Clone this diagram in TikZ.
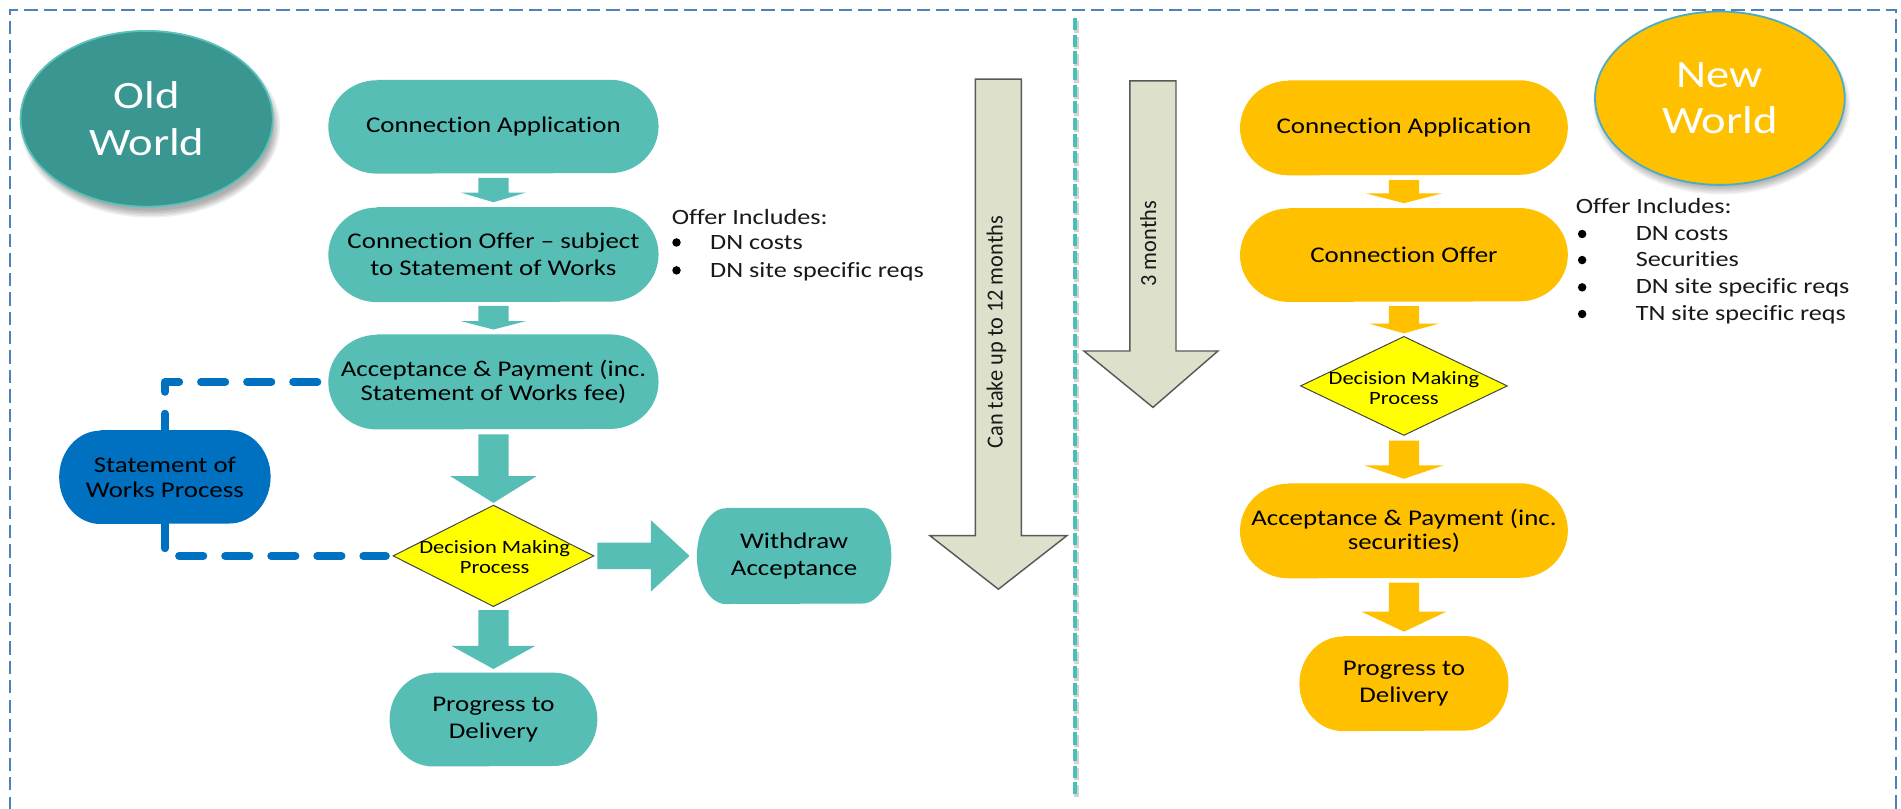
\documentclass[tikz,border=0pt]{standalone}
\usepackage{fontspec}
\setmainfont{Carlito}[FakeStretch=1.2,Ligatures=NoCommon]
\newfontfamily\rotfont{Carlito}[FakeStretch=0.97,Ligatures=NoCommon]
\usetikzlibrary{calc,shapes.geometric}
\definecolor{tealbox}{RGB}{87,190,182}
\definecolor{tealdark}{RGB}{58,150,145}
\definecolor{tealedge}{RGB}{92,192,186}
\definecolor{orangebox}{RGB}{255,192,0}
\definecolor{sowblue}{RGB}{0,112,192}
\definecolor{dmyellow}{RGB}{255,255,0}
\definecolor{grayfill}{RGB}{221,224,203}
\definecolor{grayline}{RGB}{89,89,89}
\definecolor{divteal}{RGB}{75,190,184}
\definecolor{borderblue}{RGB}{79,129,189}
\definecolor{nwedge}{RGB}{75,172,198}
\pgfdeclarelayer{back}
\pgfdeclarelayer{bg}
\pgfsetlayers{back,bg,main}
\tikzset{
  boxtext/.style={inner sep=0pt, align=center, text=black, font=\fontsize{18.5}{22}\selectfont},
  tightlines/.style={font=\fontsize{18.5}{20.5}\selectfont},
  dmshape/.style={fill=dmyellow, draw=black!75, line width=0.8pt, line join=miter},
  dmtext/.style={inner sep=0pt, align=center, text=black, font=\fontsize{15.5}{17}\selectfont},
  listtext/.style={inner sep=0pt, anchor=base west, text=black!90, font=\fontsize{18}{22}\selectfont},
  bulletdot/.style={circle, fill=black, inner sep=0pt, minimum size=7pt},
  grayarrow/.style={fill=grayfill, draw=grayline, line width=1.2pt, line join=miter},
  rottext/.style={rotate=90, inner sep=0pt, text=black!90, font=\rotfont\fontsize{19}{22}\selectfont},
  sowlink/.style={draw=sowblue, line width=6.5pt, line cap=round, line join=round, dash pattern=on 20pt off 18pt},
  world/.style={ellipse, inner sep=0pt, align=center, text=white, line width=1.5pt, font=\fontsize{32}{38.5}\selectfont},
}
% terminator box: name, x, y, w, h, rx, colour, text, extra options
\newcommand\termbox[9]{%
  \node[boxtext, minimum width=#4pt, minimum height=#5pt, #9] (#1) at (#2,#3) {#8};
  \begin{pgfonlayer}{bg}
  \fill[#7] ([xshift=#6pt]#1.north west) -- ([xshift=-#6pt]#1.north east)
     arc[start angle=90, end angle=-90, x radius=#6pt, y radius=#5pt/2]
     -- ([xshift=#6pt]#1.south west)
     arc[start angle=270, end angle=90, x radius=#6pt, y radius=#5pt/2] -- cycle;
  \end{pgfonlayer}
}
% vertical block arrow: from, to, shaft hw, head hw, head length, gap start, gap end, colour
\newcommand\vblk[8]{%
  \fill[#8] let \p1=(#1.south), \p2=(#2.north) in
   (\x1-#3,\y1-#6) -- (\x1+#3,\y1-#6) -- (\x1+#3,\y2+#7+#5) -- (\x1+#4,\y2+#7+#5)
   -- (\x1,\y2+#7) -- (\x1-#4,\y2+#7+#5) -- (\x1-#3,\y2+#7+#5) -- cycle;
}
% horizontal block arrow
\newcommand\hblk[8]{%
  \fill[#8] let \p1=(#1.east), \p2=(#2.west) in
   (\x1+#6,\y1+#3) -- (\x2-#7-#5,\y1+#3) -- (\x2-#7-#5,\y1+#4) -- (\x2-#7,\y1)
   -- (\x2-#7-#5,\y1-#4) -- (\x2-#7-#5,\y1-#3) -- (\x1+#6,\y1-#3) -- cycle;
}
\begin{document}
\begin{tikzpicture}[x=1pt,y=-1pt]
\useasboundingbox (0,0) rectangle (1568,667);
\begin{pgfonlayer}{back}
\fill[white] (0,0) rectangle (1568,667);
\end{pgfonlayer}
% outer border
\draw[borderblue, line width=1.6pt, dash pattern=on 11pt off 5pt] (8,700) -- (8,8) -- (1564,8) -- (1564,700);
% divider
\draw[black!35, opacity=0.5, line width=3.5pt, dash pattern=on 10pt off 3.7pt] (888,17) -- (888,660);
\draw[divteal, line width=3.5pt, dash pattern=on 10pt off 3.7pt] (886.4,15) -- (886.4,658);

% world circles with soft shadows
\foreach \k in {0,...,5}{
  \fill[black, opacity=0.06] (124,104) ellipse [x radius={101pt+1.2pt*\k}, y radius={69.5pt+1.2pt*\k}];
  \fill[black, opacity=0.05] (1420,86) ellipse [x radius={100pt+1.2pt*\k}, y radius={68.5pt+1.2pt*\k}];
}
\node[world, fill=tealdark, draw=tealedge, minimum width=208pt, minimum height=145pt] (ow) at (121,98) {Old\\World};
\node[world, fill=orangebox, draw=nwedge, minimum width=206pt, minimum height=143pt] (nw) at (1418.6,81) {New\\World};

% old world flow
\termbox{ca1}{407}{104.5}{272}{77}{40}{tealbox}{Connection Application}{}
\termbox{co1}{407}{210}{272}{78}{40}{tealbox}{Connection Offer – subject\\to Statement of Works}{}
\termbox{ap1}{407}{315}{272}{78}{40}{tealbox}{Acceptance \& Payment (inc.\\Statement of Works fee)}{tightlines}
\node[inner sep=0pt, minimum width=165pt, minimum height=83pt] (dm1) at (407,458.5) {};
\draw[dmshape] (dm1.north) -- (dm1.east) -- (dm1.south) -- (dm1.west) -- cycle;
\node[dmtext] (dm1t) at (408,459.5) {Decision Making\\Process};
\termbox{wa}{655}{458.5}{160}{79}{24}{tealbox}{Withdraw\\Acceptance}{}
\termbox{pd1}{407}{593.5}{171}{77}{36}{tealbox}{Progress to\\Delivery}{}
\termbox{sow}{136}{393.5}{174}{77}{34}{sowblue}{Statement of\\Works Process}{tightlines}

\vblk{ca1}{co1}{12.5pt}{27pt}{8pt}{3.5pt}{4pt}{tealbox}
\vblk{co1}{ap1}{12.5pt}{27pt}{7pt}{3pt}{4pt}{tealbox}
\vblk{ap1}{dm1}{12.5pt}{35.5pt}{22pt}{4pt}{2pt}{tealbox}
\vblk{dm1}{pd1}{12.5pt}{34.5pt}{19pt}{3pt}{3pt}{tealbox}
\hblk{dm1}{wa}{11pt}{29.5pt}{32pt}{3pt}{6pt}{tealbox}

\draw[sowlink] ([xshift=-9pt]ap1.west) -| (sow.north);
\draw[sowlink] (sow.south) |- ([xshift=-6pt]dm1.west);

% old offer list
\node[listtext] (oih) at (554,184.8) {Offer Includes:};
\node[bulletdot] (ob1) at (558,200) {};
\node[listtext] (oi1) at (585.6,206) {DN costs};
\node[bulletdot] (ob2) at (558,223) {};
\node[listtext] (oi2) at (585.6,228.5) {DN site specific reqs};

% time arrows
\filldraw[grayarrow] (804.5,65.3) -- (842.5,65.3) -- (842.5,441.8) -- (880,441.8) -- (823.5,486) -- (767,441.8) -- (804.5,441.8) -- cycle;
\node[rottext] (m12) at (822,274) {Can take up to 12 months};
\filldraw[grayarrow] (932,66.7) -- (970,66.7) -- (970,289.5) -- (1004.6,289.5) -- (951,336) -- (894,289.5) -- (932,289.5) -- cycle;
\node[rottext] (m3) at (947,201) {3 months};

% new world flow
\termbox{ca2}{1158}{105.4}{270}{78}{40}{orangebox}{Connection Application}{}
\termbox{co2}{1158}{210.3}{270}{77}{40}{orangebox}{Connection Offer}{}
\node[inner sep=0pt, minimum width=170pt, minimum height=81pt] (dm2) at (1158,318.3) {};
\draw[dmshape] (dm2.north) -- (dm2.east) -- (dm2.south) -- (dm2.west) -- cycle;
\node[dmtext] (dm2t) at (1158,320) {Decision Making\\Process};
\termbox{ap2}{1158}{437.8}{270}{78}{40}{orangebox}{Acceptance \& Payment (inc.\\securities)}{tightlines}
\termbox{pd2}{1158}{563.8}{172}{78}{36}{orangebox}{Progress to\\Delivery}{}

\vblk{ca2}{co2}{12.5pt}{31pt}{8pt}{4pt}{4pt}{orangebox}
\vblk{co2}{dm2}{12.5pt}{29pt}{8pt}{3.5pt}{2.7pt}{orangebox}
\vblk{dm2}{ap2}{12.5pt}{32.5pt}{11pt}{4.5pt}{3.7pt}{orangebox}
\vblk{ap2}{pd2}{12.5pt}{35pt}{16.5pt}{3.6pt}{3.6pt}{orangebox}

% new offer list
\node[listtext] (nih) at (1299.6,176) {Offer Includes:};
\node[bulletdot] (nb1) at (1305,193) {};
\node[listtext] (ni1) at (1349,198.5) {DN costs};
\node[bulletdot] (nb2) at (1305,214.5) {};
\node[listtext] (ni2) at (1349,220) {Securities};
\node[bulletdot] (nb3) at (1305,237) {};
\node[listtext] (ni3) at (1349,242) {DN site specific reqs};
\node[bulletdot] (nb4) at (1305,259) {};
\node[listtext] (ni4) at (1349,264) {TN site specific reqs};
\end{tikzpicture}
\end{document}
